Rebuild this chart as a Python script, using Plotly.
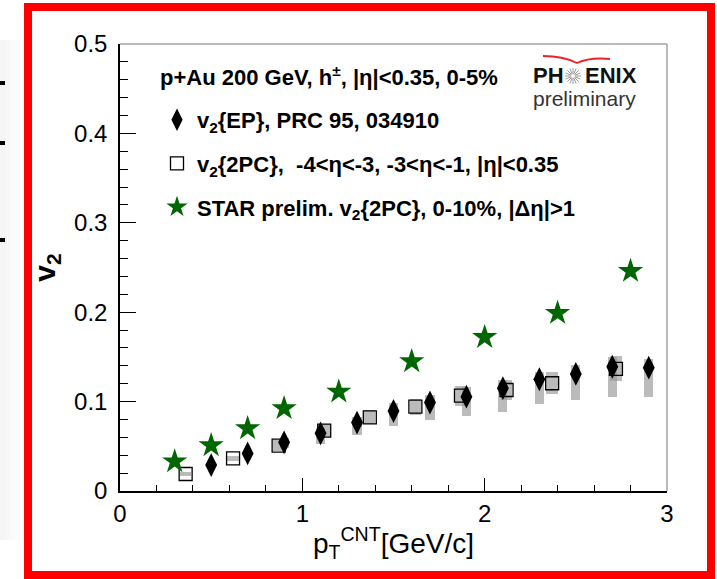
import math
import plotly.graph_objects as go

# v2{EP}, PRC 95, 034910 (with systematic bands)
x_ep = [0.5, 0.7, 0.9, 1.1, 1.3, 1.5, 1.7, 1.9, 2.1, 2.3, 2.5, 2.7, 2.9]
v2_ep = [0.029, 0.042, 0.0545, 0.0645, 0.0765, 0.0895, 0.099, 0.1055, 0.115, 0.125, 0.131, 0.139, 0.138]
ep_sys_lo = [0.026, 0.038, 0.048, 0.053, 0.0626, 0.0727, 0.079, 0.084, 0.0887, 0.097, 0.102, 0.1055, 0.1055]
ep_sys_hi = [0.032, 0.045, 0.059, 0.0705, 0.083, 0.098, 0.107, 0.1167, 0.124, 0.1335, 0.141, 0.1495, 0.1477]

# v2{2PC}, -4<eta<-3, -3<eta<-1, |eta|<0.35
x_2pc = [0.36, 0.62, 0.87, 1.12, 1.37, 1.62, 1.87, 2.12, 2.37, 2.72]
v2_2pc = [0.019, 0.0365, 0.0507, 0.0675, 0.0824, 0.0943, 0.1066, 0.113, 0.1205, 0.1365]
pc_sys_lo = [0.017, 0.0335, 0.0447, 0.0605, 0.0744, 0.0853, 0.0956, 0.102, 0.108, 0.1225]
pc_sys_hi = [0.021, 0.0395, 0.0567, 0.0745, 0.0904, 0.1033, 0.1176, 0.124, 0.133, 0.1505]

# STAR prelim. v2{2PC}, 0-10%, |d eta|>1
x_star = [0.3, 0.5, 0.7, 0.9, 1.2, 1.6, 2.0, 2.4, 2.8]
v2_star = [0.033, 0.051, 0.070, 0.0925, 0.111, 0.145, 0.172, 0.199, 0.246]

W, H = 717, 579
L, R, T, B = 120, 667, 44, 491
FONT = "Liberation Sans, Arial, Helvetica, sans-serif"
GREEN = "#006600"
SYS = "rgba(150,150,150,0.65)"


def px(x):
    return (x - L) / (R - L)


def py(y):
    return (B - y) / (B - T)


fig = go.Figure()

# systematic boxes
fig.add_trace(go.Bar(
    x=x_ep, base=ep_sys_lo, y=[h - l for h, l in zip(ep_sys_hi, ep_sys_lo)],
    width=0.05, marker=dict(color=SYS, line=dict(width=0)),
    showlegend=False, hoverinfo="skip"))
fig.add_trace(go.Bar(
    x=x_2pc, base=pc_sys_lo, y=[h - l for h, l in zip(pc_sys_hi, pc_sys_lo)],
    width=0.062, marker=dict(color=SYS, line=dict(width=0)),
    showlegend=False, hoverinfo="skip"))

fig.add_trace(go.Scatter(
    x=x_ep, y=v2_ep, mode="markers", legendgroup="a",
    name="<b>v<sub>2</sub>{EP}, PRC 95, 034910</b>",
    marker=dict(symbol="diamond-tall", size=17, color="black")))
fig.add_trace(go.Scatter(
    x=x_2pc, y=v2_2pc, mode="markers", legendgroup="b",
    name="<b>v<sub>2</sub>{2PC},  -4&lt;η&lt;-3, -3&lt;η&lt;-1, |η|&lt;0.35</b>",
    marker=dict(symbol="square-open", size=13, color="black", line=dict(width=1.3))))
fig.add_trace(go.Scatter(
    x=x_star, y=v2_star, mode="markers", legendgroup="c",
    name="<b>STAR prelim. v<sub>2</sub>{2PC}, 0-10%, |Δη|&gt;1</b>",
    marker=dict(symbol="star", size=19, color=GREEN, line=dict(width=0))))

shapes = [
    # frame top/right
    dict(type="line", xref="paper", yref="paper", x0=0, x1=1, y0=1, y1=1,
         line=dict(color="#777777", width=1)),
    dict(type="line", xref="paper", yref="paper", x0=1, x1=1, y0=0, y1=1,
         line=dict(color="#777777", width=1)),
    # red slide border
    dict(type="rect", xref="paper", yref="paper", x0=px(28), x1=px(711), y0=py(7), y1=py(575),
         line=dict(color="#ff0000", width=8), layer="above"),
]

# faint shading at the left slide edge
for i, op in enumerate([0.040, 0.030, 0.021, 0.013, 0.006]):
    shapes.append(dict(type="rect", xref="paper", yref="paper",
                       x0=px(i * 5), x1=px(i * 5 + 5), y0=py(540), y1=py(40),
                       fillcolor="rgba(0,0,0,%.3f)" % op, line=dict(width=0), layer="below"))
for yy in [83, 143, 240]:
    shapes.append(dict(type="rect", xref="paper", yref="paper",
                       x0=px(0), x1=px(5), y0=py(yy + 2), y1=py(yy - 2),
                       fillcolor="black", line=dict(width=0)))

# PHENIX logo: red wing arc and starburst
shapes.append(dict(type="path", xref="paper", yref="paper",
                   path="M %f,%f Q %f,%f %f,%f Q %f,%f %f,%f" % (
                       px(543), py(56), px(563), py(56), px(577), py(63),
                       px(590), py(57), px(610), py(59)),
                   line=dict(color="#ee2222", width=1.8)))
cx, cy, r0, r1 = 573, 76, 2.0, 8.0
for k in range(16):
    a = 2 * math.pi * k / 16
    shapes.append(dict(type="line", xref="paper", yref="paper",
                       x0=px(cx + r0 * math.cos(a)), y0=py(cy + r0 * math.sin(a)),
                       x1=px(cx + r1 * math.cos(a)), y1=py(cy + r1 * math.sin(a)),
                       line=dict(color="#9a9a9a", width=1)))

annotations = [
    dict(text="<b>p+Au 200 GeV, h<sup>±</sup>, |η|&lt;0.35, 0-5%</b>", x=px(158), y=py(76),
         xref="paper", yref="paper", xanchor="left", yanchor="middle", showarrow=False,
         font=dict(family=FONT, size=22, color="black")),
    dict(text="<b>PH</b>", x=px(531), y=py(76), xref="paper", yref="paper",
         xanchor="left", yanchor="middle", showarrow=False,
         font=dict(family=FONT, size=22, color="#111111")),
    dict(text="<b>ENIX</b>", x=px(583), y=py(76), xref="paper", yref="paper",
         xanchor="left", yanchor="middle", showarrow=False,
         font=dict(family=FONT, size=22, color="#111111")),
    dict(text="preliminary", x=px(531), y=py(99), xref="paper", yref="paper",
         xanchor="left", yanchor="middle", showarrow=False,
         font=dict(family=FONT, size=21, color="#333333")),
]

fig.update_layout(
    width=W, height=H,
    margin=dict(l=L, r=W - R, t=T, b=H - B, pad=0),
    paper_bgcolor="white", plot_bgcolor="white",
    barmode="overlay", bargap=0,
    showlegend=True,
    legend=dict(x=px(157), y=py(99), xanchor="left", yanchor="top",
                bgcolor="rgba(0,0,0,0)", font=dict(family=FONT, size=22, color="black"),
                traceorder="grouped", tracegroupgap=12, itemclick=False),
    shapes=shapes, annotations=annotations,
    xaxis=dict(range=[0, 3], dtick=1, tick0=0, ticks="inside", ticklen=13, tickwidth=1,
               tickcolor="black", showline=True, linecolor="black", linewidth=1.5,
               showgrid=False, zeroline=False,
               minor=dict(dtick=0.2, ticks="inside", ticklen=6, tickcolor="black", showgrid=False),
               tickfont=dict(family=FONT, size=24, color="black"),
               title=dict(text="p<sub>T</sub><sup>CNT</sup>[GeV/c]", standoff=8,
                          font=dict(family=FONT, size=28, color="black"))),
    yaxis=dict(range=[0, 0.5], dtick=0.1, tick0=0, ticks="inside", ticklen=16, tickwidth=1,
               tickcolor="black", showline=True, linecolor="black", linewidth=1.5,
               showgrid=False, zeroline=False,
               minor=dict(dtick=0.02, ticks="inside", ticklen=8, tickcolor="black", showgrid=False),
               tickfont=dict(family=FONT, size=24, color="black"), ticklabelstandoff=6,
               title=dict(text="<b>v<sub>2</sub></b>", standoff=10,
                          font=dict(family=FONT, size=30, color="black"))),
)

fig.write_html("out.html")
